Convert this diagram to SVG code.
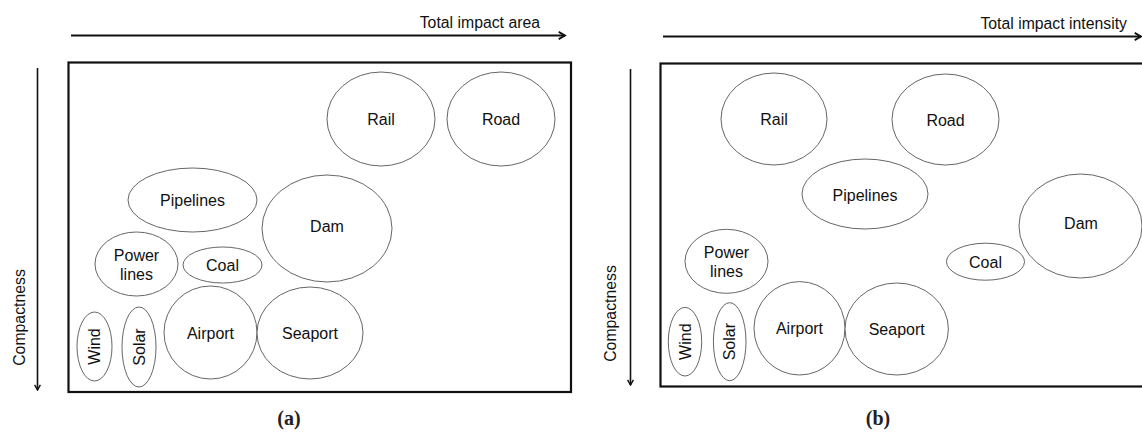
<svg xmlns="http://www.w3.org/2000/svg" width="1142" height="432" viewBox="0 0 1142 432">
<style>
  .node ellipse { fill: #ffffff; stroke: #555555; stroke-width: 0.9; }
  .lbl { font-family: "Liberation Sans", Arial, sans-serif; font-size: 16px; fill: #111111; text-anchor: middle; }
  .axis { font-family: "Liberation Sans", Arial, sans-serif; font-size: 15.8px; fill: #111111; }
  .frame { fill: none; stroke: #111111; stroke-width: 2.2; }
  .ax { stroke: #111111; fill: none; }
  .cap { font-family: "Liberation Serif", "Times New Roman", serif; font-weight: bold; font-size: 20px; fill: #222222; text-anchor: middle; }
</style>
<defs>
  <marker id="ah" viewBox="0 0 10 10" refX="8" refY="5" markerWidth="4.5" markerHeight="4.5" orient="auto" markerUnits="strokeWidth">
    <path d="M1,1 L8,5 L1,9" fill="none" stroke="#111111" stroke-width="2"/>
  </marker>
</defs>
<rect width="1142" height="432" fill="#ffffff"/>

<!-- Panel (a) -->
<rect class="frame" x="68.5" y="62.5" width="502.5" height="329.5"/>
<g id="connectors">
  <line class="ax" x1="71" y1="35.5" x2="565" y2="35.5" stroke-width="2" marker-end="url(#ah)"/>
  <line class="ax" x1="37.5" y1="68" x2="37.5" y2="390" stroke-width="1.6" marker-end="url(#ah)"/>
  <line class="ax" x1="663" y1="36.5" x2="1141" y2="36.5" stroke-width="2" marker-end="url(#ah)"/>
  <line class="ax" x1="630.5" y1="69" x2="630.5" y2="385" stroke-width="1.6" marker-end="url(#ah)"/>
</g>
<text class="axis" x="540" y="28" text-anchor="end">Total impact area</text>
<text class="axis" transform="translate(25,317.5) rotate(-90)" text-anchor="middle">Compactness</text>

<g id="a-rail" class="node"><ellipse cx="381" cy="119" rx="54" ry="47"/><text class="lbl" x="381" y="125">Rail</text></g>
<g id="a-road" class="node"><ellipse cx="501" cy="119" rx="54" ry="47"/><text class="lbl" x="501" y="125">Road</text></g>
<g id="a-pipelines" class="node"><ellipse cx="192.5" cy="200" rx="64.5" ry="32"/><text class="lbl" x="192.5" y="205.5">Pipelines</text></g>
<g id="a-dam" class="node"><ellipse cx="327" cy="228.5" rx="65" ry="53.5"/><text class="lbl" x="327" y="232">Dam</text></g>
<g id="a-powerlines" class="node"><ellipse cx="136.5" cy="264" rx="41.5" ry="32"/><text class="lbl" x="136.5" y="261">Power</text><text class="lbl" x="136.5" y="280">lines</text></g>
<g id="a-coal" class="node"><ellipse cx="222.5" cy="265" rx="39.5" ry="18"/><text class="lbl" x="222.5" y="270.5">Coal</text></g>
<g id="a-wind" class="node"><ellipse cx="94.5" cy="346.5" rx="17.5" ry="34.5"/><text class="lbl" transform="translate(100.2,346.5) rotate(-90)">Wind</text></g>
<g id="a-solar" class="node"><ellipse cx="139" cy="347" rx="17" ry="40"/><text class="lbl" transform="translate(144.7,347) rotate(-90)">Solar</text></g>
<g id="a-airport" class="node"><ellipse cx="210.5" cy="332.5" rx="46.5" ry="46.5"/><text class="lbl" x="210.5" y="338.5">Airport</text></g>
<g id="a-seaport" class="node"><ellipse cx="310" cy="333" rx="53" ry="46"/><text class="lbl" x="310" y="338.5">Seaport</text></g>
<text class="cap" x="289" y="425">(a)</text>

<!-- Panel (b) -->
<rect class="frame" x="660.5" y="63.5" width="490" height="323"/>
<text class="axis" x="1127" y="29" text-anchor="end">Total impact intensity</text>
<text class="axis" transform="translate(616,313.5) rotate(-90)" text-anchor="middle">Compactness</text>

<g id="b-rail" class="node"><ellipse cx="774" cy="119" rx="53" ry="46"/><text class="lbl" x="774" y="125">Rail</text></g>
<g id="b-road" class="node"><ellipse cx="945.5" cy="119.5" rx="53.5" ry="45.5"/><text class="lbl" x="945.5" y="125.5">Road</text></g>
<g id="b-pipelines" class="node"><ellipse cx="865" cy="194" rx="63" ry="35"/><text class="lbl" x="865" y="201">Pipelines</text></g>
<g id="b-dam" class="node"><ellipse cx="1080.5" cy="226" rx="61.5" ry="52"/><text class="lbl" x="1081" y="229">Dam</text></g>
<g id="b-coal" class="node"><ellipse cx="985.5" cy="261.7" rx="39" ry="18.5"/><text class="lbl" x="985.5" y="268">Coal</text></g>
<g id="b-powerlines" class="node"><ellipse cx="726.5" cy="261.3" rx="41.5" ry="32"/><text class="lbl" x="726.5" y="258">Power</text><text class="lbl" x="726.5" y="277">lines</text></g>
<g id="b-wind" class="node"><ellipse cx="685" cy="341.7" rx="16.7" ry="34.3"/><text class="lbl" transform="translate(690.7,341.7) rotate(-90)">Wind</text></g>
<g id="b-solar" class="node"><ellipse cx="729.7" cy="341.7" rx="16.3" ry="39"/><text class="lbl" transform="translate(735.2,341.7) rotate(-90)">Solar</text></g>
<g id="b-airport" class="node"><ellipse cx="799.5" cy="328.3" rx="45.5" ry="46.7"/><text class="lbl" x="799.5" y="334">Airport</text></g>
<g id="b-seaport" class="node"><ellipse cx="896.7" cy="329" rx="51.7" ry="46"/><text class="lbl" x="896.7" y="334.5">Seaport</text></g>
<text class="cap" x="878" y="425">(b)</text>
</svg>
